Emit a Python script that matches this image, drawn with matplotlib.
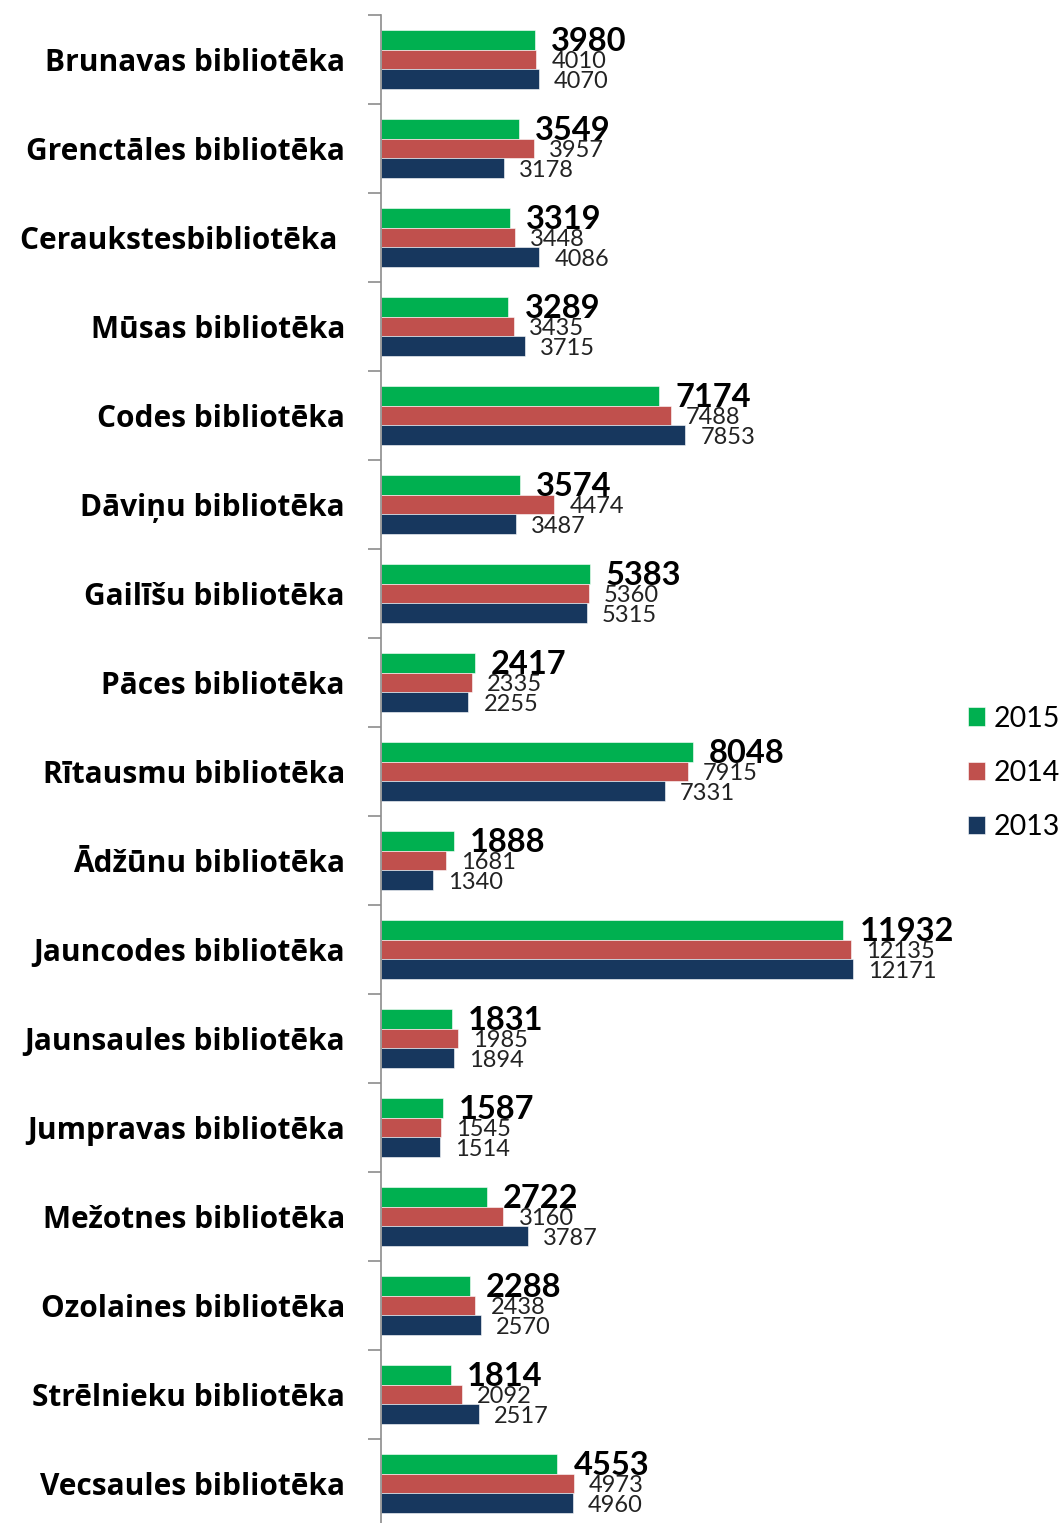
import matplotlib
matplotlib.use("Agg")
from matplotlib import pyplot as plt
import numpy as np

plt.rcParams['font.family'] = ['Lato', 'DejaVu Sans']

libraries = ['Brunavas bibliotēka', 'Grenctāles bibliotēka', 'Ceraukstesbibliotēka ',
             'Mūsas bibliotēka', 'Codes bibliotēka', 'Dāviņu bibliotēka',
             'Gailīšu bibliotēka', 'Pāces bibliotēka', 'Rītausmu bibliotēka',
             'Ādžūnu bibliotēka', 'Jauncodes bibliotēka', 'Jaunsaules bibliotēka',
             'Jumpravas bibliotēka', 'Mežotnes bibliotēka', 'Ozolaines bibliotēka',
             'Strēlnieku bibliotēka', 'Vecsaules bibliotēka']
v2015 = [3980, 3549, 3319, 3289, 7174, 3574, 5383, 2417, 8048, 1888, 11932, 1831, 1587, 2722, 2288, 1814, 4553]
v2014 = [4010, 3957, 3448, 3435, 7488, 4474, 5360, 2335, 7915, 1681, 12135, 1985, 1545, 3160, 2438, 2092, 4973]
v2013 = [4070, 3178, 4086, 3715, 7853, 3487, 5315, 2255, 7331, 1340, 12171, 1894, 1514, 3787, 2570, 2517, 4960]

c15 = '#00B050'
c14 = '#C0504D'
c13 = '#17375E'

W, H = 1062, 1523
fig = plt.figure(figsize=(W / 100, H / 100), dpi=100)
# axis from x=381 px, top at 15 px, groups of 89 px
ax = fig.add_axes([381 / W, (H - 1528) / H, 580 / W, 1513 / H])

y = np.arange(len(libraries))
h = 0.222
b1 = ax.barh(y - h, v2015, height=h, color=c15, edgecolor='white', linewidth=0.4, label='2015')
b2 = ax.barh(y, v2014, height=h, color=c14, edgecolor='white', linewidth=0.4, label='2014')
b3 = ax.barh(y + h, v2013, height=h, color=c13, edgecolor='white', linewidth=0.4, label='2013')

for i in range(len(libraries)):
    ax.annotate(str(v2015[i]), (v2015[i], y[i] - h + 0.02), xytext=(16, 0), textcoords='offset pixels',
                ha='left', va='center', fontsize=23.5, fontweight='bold', color='black')
    ax.annotate(str(v2014[i]), (v2014[i], y[i] + 0.02), xytext=(15, 0), textcoords='offset pixels',
                ha='left', va='center', fontsize=17, color='#222222')
    ax.annotate(str(v2013[i]), (v2013[i], y[i] + h + 0.02), xytext=(15, 0), textcoords='offset pixels',
                ha='left', va='center', fontsize=17, color='#222222')

ax.set_xlim(0, 580 / 0.03876)
ax.set_ylim(len(libraries) - 0.5, -0.5)

ax.set_yticks(y)
ax.set_yticklabels(libraries, fontsize=21.5, fontweight='bold', family=['Open Sans', 'DejaVu Sans'])
ax.tick_params(axis='y', which='major', length=0, pad=26)
ax.set_yticks(np.arange(len(libraries) + 1) - 0.5, minor=True)
ax.tick_params(axis='y', which='minor', length=9.4, width=1.2, color='#8C8C8C', direction='out')
ax.set_xticks([])

for s in ['top', 'right', 'bottom']:
    ax.spines[s].set_visible(False)
ax.spines['left'].set_color('#8C8C8C')
ax.spines['left'].set_linewidth(1.2)

fig.legend(handles=[b1, b2, b3], loc='center left', bbox_to_anchor=(968 / W, 1 - 773 / H),
           frameon=False, fontsize=20.5, handlelength=0.6, handleheight=0.6,
           handletextpad=0.3, labelspacing=1.0, borderpad=0, borderaxespad=0)

fig.savefig('out.png', dpi=100)
